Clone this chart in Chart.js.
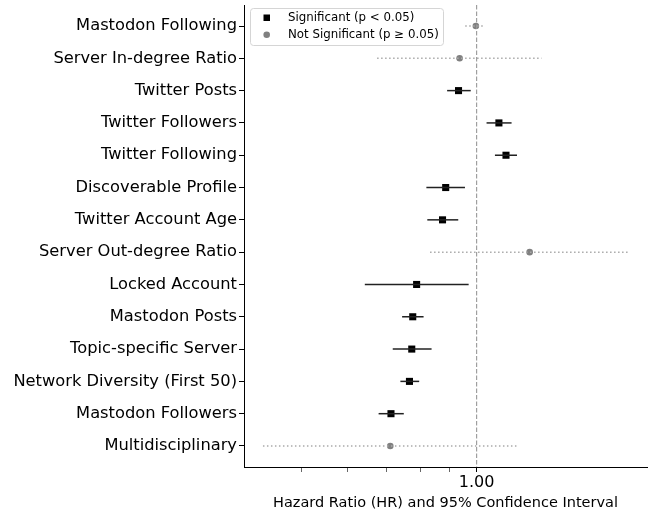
<!DOCTYPE html>
<html lang="en">
<head>
  <meta charset="UTF-8">
  <title>Hazard ratios</title>
  <script src="https://cdn.jsdelivr.net/npm/chart.js"></script>
  <style>
    body { margin: 0; background: #fff; }
  </style>
</head>
<body>
  <canvas id="hrChart" width="654" height="512"></canvas>

  <script>
    const labels = [
      "Mastodon Following", "Server In-degree Ratio", "Twitter Posts",
      "Twitter Followers", "Twitter Following", "Discoverable Profile",
      "Twitter Account Age", "Server Out-degree Ratio", "Locked Account",
      "Mastodon Posts", "Topic-specific Server", "Network Diversity (First 50)",
      "Mastodon Followers", "Multidisciplinary"
    ];
    const hr    = [0.997, 0.935, 0.931, 1.092, 1.123, 0.885, 0.874, 1.233, 0.789, 0.777, 0.774, 0.767, 0.713, 0.711];
    const ciLow = [0.956, 0.675, 0.890, 1.040, 1.075, 0.820, 0.823, 0.832, 0.643, 0.745, 0.718, 0.740, 0.679, 0.430];
    const ciHigh= [1.034, 1.292, 0.977, 1.148, 1.173, 0.955, 0.930, 1.828, 0.969, 0.811, 0.837, 0.797, 0.750, 1.173];
    const significant = [false, false, true, true, true, true, true, false, true, true, true, true, true, false];
    const xTicks = [0.5, 0.6, 0.7, 0.8, 0.9, 1.0];

    const FONT = "'DejaVu Sans', sans-serif";

    const datasets = [];
    // reference line at HR = 1
    datasets.push({
      type: 'line',
      data: [{ x: 1, y: -0.65 }, { x: 1, y: 13.65 }],
      borderColor: '#999',
      borderWidth: 1.1,
      borderDash: [4.5, 2],
      pointRadius: 0
    });
    // confidence intervals
    labels.forEach((name, i) => {
      datasets.push({
        type: 'line',
        data: [{ x: ciLow[i], y: i }, { x: ciHigh[i], y: i }],
        borderColor: significant[i] ? '#222' : '#aaa',
        borderWidth: 1.5,
        borderDash: significant[i] ? [] : [1.5, 2.5],
        pointRadius: 0
      });
    });
    // point estimates
    datasets.push({
      type: 'scatter',
      data: labels.map((n, i) => ({ x: hr[i], y: i })).filter((p, i) => significant[i]),
      pointStyle: 'rect',
      pointRadius: 5,
      backgroundColor: '#000',
      borderColor: '#000',
      borderWidth: 0
    });
    datasets.push({
      type: 'scatter',
      data: labels.map((n, i) => ({ x: hr[i], y: i })).filter((p, i) => !significant[i]),
      pointStyle: 'circle',
      pointRadius: 3.3,
      backgroundColor: '#808080',
      borderColor: '#808080',
      borderWidth: 0
    });

    // legend box drawn in the upper left of the plot
    const legendBox = {
      id: 'legendBox',
      afterDraw(chart) {
        const c = chart.ctx;
        c.save();
        c.strokeStyle = '#d5d5d5';
        c.lineWidth = 1;
        c.fillStyle = 'rgba(255,255,255,0.8)';
        c.beginPath();
        c.roundRect(250.5, 8.5, 193, 37, 3);
        c.fill();
        c.stroke();
        c.fillStyle = '#000';
        c.fillRect(263.5, 14.5, 6.5, 6.5);
        c.fillStyle = '#808080';
        c.beginPath();
        c.arc(266.7, 34.7, 3.3, 0, Math.PI * 2);
        c.fill();
        c.fillStyle = '#000';
        c.font = '11.8px ' + FONT;
        c.textBaseline = 'middle';
        c.fillText('Significant (p < 0.05)', 288, 18);
        c.fillText('Not Significant (p \u2265 0.05)', 288, 35);
        c.restore();
      }
    };

    new Chart(document.getElementById('hrChart'), {
      type: 'scatter',
      data: { datasets: datasets },
      plugins: [legendBox],
      options: {
        responsive: false,
        animation: false,
        layout: { padding: { top: 1, right: 7, left: 0, bottom: 0 } },
        plugins: { legend: { display: false }, tooltip: { enabled: false } },
        scales: {
          x: {
            type: 'logarithmic',
            min: 0.399,
            max: 1.96,
            afterBuildTicks: scale => {
              scale.ticks = xTicks.map(v => ({ value: v }));
            },
            afterFit: scale => {
              scale.height = 45;
              scale.paddingLeft = 0;
              scale.paddingRight = 0;
            },
            ticks: {
              autoSkip: false,
              maxRotation: 0,
              color: '#000',
              font: { family: FONT, size: 16 },
              padding: 1,
              callback: v => (v === 1 ? '1.00' : '')
            },
            grid: {
              drawOnChartArea: false,
              tickLength: 5,
              tickColor: '#000',
              tickWidth: ctx => (ctx.tick && ctx.tick.value === 1 ? 1 : 0.6)
            },
            border: { display: true, color: '#000', width: 1 },
            title: {
              display: true,
              text: 'Hazard Ratio (HR) and 95% Confidence Interval',
              color: '#000',
              font: { family: FONT, size: 14.5 },
              padding: { top: 1, bottom: 0 }
            }
          },
          y: {
            type: 'linear',
            reverse: true,
            min: -0.65,
            max: 13.65,
            afterBuildTicks: scale => {
              scale.ticks = labels.map((n, i) => ({ value: i }));
            },
            afterFit: scale => {
              scale.width = 244;
              scale.paddingTop = 0;
              scale.paddingBottom = 0;
            },
            ticks: {
              autoSkip: false,
              color: '#000',
              font: { family: FONT, size: 16.3 },
              padding: 2,
              callback: v => labels[v]
            },
            grid: {
              drawOnChartArea: false,
              tickLength: 5,
              tickColor: '#000'
            },
            border: { display: true, color: '#000', width: 1 }
          }
        }
      }
    });
  </script>
</body>
</html>
